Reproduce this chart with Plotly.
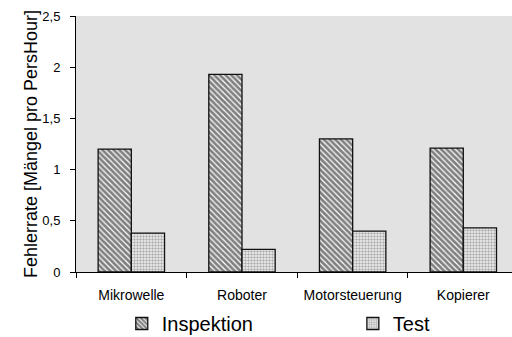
import plotly.graph_objects as go

categories = ["Mikrowelle", "Roboter", "Motorsteuerung", "Kopierer"]
inspektion = [1.20, 1.93, 1.30, 1.21]
test = [0.38, 0.22, 0.40, 0.43]
y_ticks = [0, 0.5, 1, 1.5, 2, 2.5]

fig = go.Figure()
fig.add_trace(go.Bar(
    x=categories, y=inspektion, name="Inspektion", legend="legend",
    marker=dict(color="white", line=dict(color="#111111", width=1.3),
                pattern=dict(shape="\\", fgcolor="black", bgcolor="white", size=4, solidity=0.7)),
))
fig.add_trace(go.Bar(
    x=categories, y=test, name="Test", legend="legend2",
    marker=dict(color="white", line=dict(color="#111111", width=1.3),
                pattern=dict(shape=".", fgcolor="#666666", bgcolor="#f4f4f4", size=3, solidity=0.5)),
))

legend_common = dict(orientation="h", yref="container", yanchor="middle", y=0.04,
                     xanchor="left", font=dict(size=20), bgcolor="rgba(0,0,0,0)")

fig.update_layout(
    width=512, height=337,
    margin=dict(l=76, r=0, t=16, b=65),
    paper_bgcolor="white",
    plot_bgcolor="#e2e2e2",
    barmode="group",
    bargap=0.4,
    bargroupgap=0,
    separators=",.",
    font=dict(family="Liberation Sans, Arial, sans-serif", color="black", size=13),
    showlegend=True,
    legend=dict(x=0.105, **legend_common),
    legend2=dict(x=0.635, **legend_common),
    xaxis=dict(
        type="category", range=[-0.5, 3.44],
        showline=True, linecolor="black", linewidth=1,
        ticks="outside", ticklen=5, tickcolor="black", tickson="boundaries",
        showgrid=False, tickfont=dict(size=14), ticklabelstandoff=10,
    ),
    yaxis=dict(
        range=[0, 2.5], tickvals=y_ticks,
        showline=True, linecolor="black", linewidth=1,
        ticks="outside", ticklen=5, tickcolor="black",
        showgrid=False, zeroline=False, tickfont=dict(size=13), ticklabelstandoff=7,
        title=dict(text="Fehlerrate [Mängel pro PersHour]", font=dict(size=18), standoff=0),
    ),
)

fig.write_html("out.html")
